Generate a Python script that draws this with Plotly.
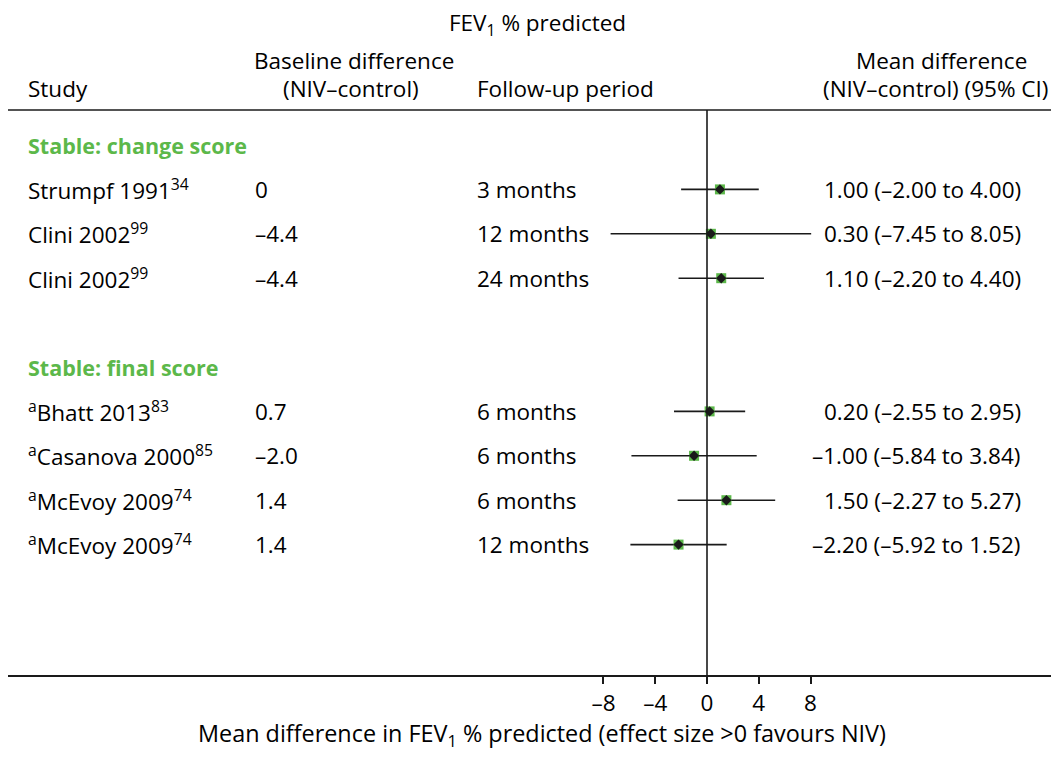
import plotly.graph_objects as go

# page body has an 8px margin on every side: keep the figure inside the window
OFF = 8
W, H = 1059 - 2 * OFF, 757 - 2 * OFF

# ---- data ----
sections = ["Stable: change score", "Stable: final score"]
studies = ["Strumpf 1991<sup>34</sup>", "Clini 2002<sup>99</sup>", "Clini 2002<sup>99</sup>",
           "<sup>a</sup>Bhatt 2013<sup>83</sup>", "<sup>a</sup>Casanova 2000<sup>85</sup>",
           "<sup>a</sup>McEvoy 2009<sup>74</sup>", "<sup>a</sup>McEvoy 2009<sup>74</sup>"]
study_section = [0, 0, 0, 1, 1, 1, 1]
baseline = ["0", "–4.4", "–4.4", "0.7", "–2.0", "1.4", "1.4"]
followup = ["3 months", "12 months", "24 months", "6 months", "6 months", "6 months", "12 months"]
mean_diff = [1.00, 0.30, 1.10, 0.20, -1.00, 1.50, -2.20]
ci_low = [-2.00, -7.45, -2.20, -2.55, -5.84, -2.27, -5.92]
ci_high = [4.00, 8.05, 4.40, 2.95, 3.84, 5.27, 1.52]
tick_vals = [-8, -4, 0, 4, 8]
tick_text = ["–8", "–4", "0", "4", "8"]

FONT = "Open Sans"
FS = 22.5
GREEN = "#5cb84a"
INK = "#1a1a1a"

def fmt(v):
    s = f"{abs(v):.2f}"
    return ("–" + s) if v < 0 else s

# row layout: section heading, its studies, blank row between sections
rows_y = []
sec_y = []
r = 0
for si, sec in enumerate(sections):
    if si > 0:
        r += 1
    sec_y.append(r)
    r += 1
    for i, s in enumerate(studies):
        if study_section[i] == si:
            rows_y.append(r)
            r += 1

fig = go.Figure()

fig.add_trace(go.Scatter(
    x=mean_diff, y=rows_y, mode="markers",
    marker=dict(symbol="square", size=10, color=GREEN, line=dict(width=0)),
    error_x=dict(type="data", symmetric=False,
                 array=[h - m for h, m in zip(ci_high, mean_diff)],
                 arrayminus=[m - l for l, m in zip(ci_low, mean_diff)],
                 width=0, thickness=1.6, color=INK),
    showlegend=False, hoverinfo="skip"))
fig.add_trace(go.Scatter(
    x=mean_diff, y=rows_y, mode="markers",
    marker=dict(symbol="diamond", size=8, color=INK, line=dict(width=0)),
    showlegend=False, hoverinfo="skip"))

# layout geometry (window pixels of the reference)
px_per_unit = 12.94
x0_px = 707
row0_px = 145
row_px = 44.4
axis_px = 675
top_rule_px = 110

def px(x):
    return (x - OFF) / W

def py(y):
    return 1 - (y - OFF) / H

xr = [(OFF - x0_px) / px_per_unit, (OFF + W - x0_px) / px_per_unit]
yr = [(axis_px - row0_px) / row_px, (OFF - row0_px) / row_px]

ann = []
def T(text, x, y, anchor="left", yref="paper", color="black", xshift=0, size=FS):
    ann.append(dict(text=text, x=x, y=y, xref="paper", yref=yref, xanchor=anchor,
                    yanchor="middle", showarrow=False, xshift=xshift,
                    font=dict(family=FONT, size=size, color=color)))

# headers
T("FEV<sub>1</sub> % predicted", px(537), py(24), "center")
T("Baseline difference", px(354), py(60), "center")
T("(NIV–control)", px(351), py(88), "center")
T("Study", px(26), py(88))
T("Follow-up period", px(475), py(88))
T("Mean difference", px(941), py(60), "center")
T("(NIV–control) (95% CI)", px(1050), py(88), "right")

for si, sec in enumerate(sections):
    T("<b>" + sec + "</b>", px(26), sec_y[si], yref="y", color=GREEN, size=21.5)

for i, s in enumerate(studies):
    y = rows_y[i]
    T(s, px(26), y, yref="y")
    T(baseline[i], px(253), y, yref="y")
    T(followup[i], px(475), y, yref="y")
    txt = f"{fmt(mean_diff[i])} ({fmt(ci_low[i])} to {fmt(ci_high[i])})"
    T(txt, px(822), y, yref="y", xshift=(-12 if mean_diff[i] < 0 else 0))

T("Mean difference in FEV<sub>1</sub> % predicted (effect size >0 favours NIV)",
  px(542), py(734), "center", size=23.4)

fig.update_layout(
    width=W, height=H,
    margin=dict(l=0, r=0, t=0, b=0),
    paper_bgcolor="white", plot_bgcolor="white",
    annotations=ann,
    xaxis=dict(range=xr, domain=[0, 1], showgrid=False, zeroline=False,
               showline=True, linecolor=INK, linewidth=1.6,
               tickvals=tick_vals, ticktext=tick_text, ticks="outside",
               ticklen=7, tickwidth=1.6, tickcolor=INK,
               tickfont=dict(family=FONT, size=FS, color="black"), fixedrange=True),
    yaxis=dict(range=yr, domain=[(OFF + H - axis_px) / H, 1], showgrid=False,
               zeroline=False, showticklabels=False, showline=False, fixedrange=True),
    shapes=[
        dict(type="line", xref="paper", yref="paper", x0=0, x1=1,
             y0=py(top_rule_px), y1=py(top_rule_px), line=dict(color=INK, width=1.6)),
        dict(type="line", xref="x", yref="paper", x0=0, x1=0,
             y0=py(top_rule_px), y1=py(axis_px), line=dict(color=INK, width=1.6)),
    ],
)

fig.write_html("out.html")
